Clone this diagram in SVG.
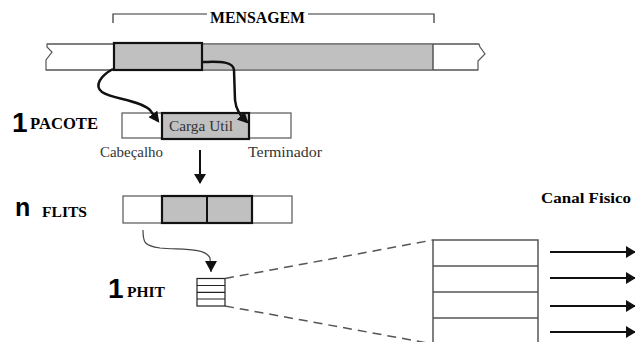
<svg xmlns="http://www.w3.org/2000/svg" width="635" height="342" viewBox="0 0 635 342">
<defs>
<style>
text.serif{font-family:"Liberation Serif","Times New Roman",serif;}
text.bold{font-weight:bold;}
text.sans{font-family:"Liberation Sans",Arial,sans-serif;font-weight:bold;}
.thin{fill:#fff;stroke:#555;stroke-width:1.2;}
.grey{fill:#c0c0c0;}
.thick{fill:#c0c0c0;stroke:#111;stroke-width:2.2;}
.curve{fill:none;stroke:#111;stroke-width:2.5;}
.dash{fill:none;stroke:#555;stroke-width:1.5;stroke-dasharray:9,6;}
</style>
<marker id="ah" viewBox="0 0 10 10" refX="8" refY="5" markerWidth="11" markerHeight="11" orient="auto" markerUnits="userSpaceOnUse">
<path d="M0,0 L10,5 L0,10 z" fill="#111"/>
</marker>
<marker id="ah2" viewBox="0 0 10 12" refX="9" refY="6" markerWidth="10" markerHeight="12" orient="auto" markerUnits="userSpaceOnUse">
<path d="M0,0 L10,6 L0,12 z" fill="#111"/>
</marker>
</defs>
<rect width="635" height="342" fill="#fff"/>

<g id="mensagem">
<path d="M113,23 V14 H207 M308,14 H434 V23" fill="none" stroke="#333" stroke-width="1.2"/>
<text class="serif bold" font-family="Liberation Serif, serif" x="210" y="23" font-size="16" textLength="95" lengthAdjust="spacingAndGlyphs">MENSAGEM</text>
<path d="M47,44 L479,44 L480,47 L485,54 L478,61 L478,70 L46,70 L46,60 L52,52 L47,47 Z" class="thin"/>
<rect x="113" y="44" width="320" height="26" class="grey"/>
<line x1="433" y1="44" x2="433" y2="70" stroke="#555" stroke-width="1.5"/>
<path d="M47,44 H479 M46,70 H478" stroke="#555" stroke-width="1.2" fill="none"/>
<rect x="114" y="43" width="88" height="27" class="thick"/>
</g>

<g id="pacote">
<text class="sans" x="12" y="132" font-size="28">1</text>
<text class="serif bold" font-family="Liberation Serif, serif" x="30" y="129" font-size="16" textLength="68" lengthAdjust="spacingAndGlyphs">PACOTE</text>
<rect x="122" y="113" width="169" height="25" class="thin"/>
<rect x="162" y="113" width="87" height="26" class="thick"/>
<text class="serif" font-family="Liberation Serif, serif" x="169" y="131" font-size="15" fill="#333" textLength="64" lengthAdjust="spacingAndGlyphs">Carga Util</text>
<text class="serif" font-family="Liberation Serif, serif" x="100" y="157" font-size="14" fill="#333" textLength="63" lengthAdjust="spacingAndGlyphs">Cabeçalho</text>
<text class="serif" font-family="Liberation Serif, serif" x="248" y="157" font-size="14" fill="#333" textLength="74" lengthAdjust="spacingAndGlyphs">Terminador</text>
</g>

<g id="flits">
<text class="sans" x="15" y="216" font-size="25">n</text>
<text class="serif bold" font-family="Liberation Serif, serif" x="42" y="217" font-size="14" textLength="45" lengthAdjust="spacingAndGlyphs">FLITS</text>
<rect x="123" y="196" width="169" height="27" class="thin"/>
<rect x="162" y="196" width="90" height="27" class="thick"/>
<line x1="207" y1="196" x2="207" y2="223" stroke="#111" stroke-width="2"/>
</g>

<g id="phit">
<text class="sans" x="108" y="298" font-size="28">1</text>
<text class="serif bold" font-family="Liberation Serif, serif" x="127" y="297" font-size="15" textLength="38" lengthAdjust="spacingAndGlyphs">PHIT</text>
<rect x="197" y="278.5" width="28" height="27.5" fill="#fff" stroke="#222" stroke-width="1.2"/>
<path d="M197,285.5 H225 M197,292.3 H225 M197,299 H225" stroke="#222" stroke-width="1.2"/>
</g>

<g id="canal">
<text class="serif bold" font-family="Liberation Serif, serif" x="541" y="203" font-size="15" textLength="90" lengthAdjust="spacingAndGlyphs">Canal Fisico</text>
<path d="M433,342 V240 H538 V342" fill="#fff" stroke="#555" stroke-width="1.5"/>
<path d="M433,266 H538 M433,292 H538 M433,318 H538" stroke="#555" stroke-width="1.5"/>
</g>

<g id="connectors">
<path class="curve" d="M113,69 C100,76 94,86 102,92 C112,99 140,100 150,110 L158,121" marker-end="url(#ah)"/>
<path class="curve" d="M202,62 C215,62 233,60 234,70 L235,100 C236,110 240,115 247,122" marker-end="url(#ah)"/>
<line x1="200" y1="150" x2="200" y2="183" stroke="#111" stroke-width="2" marker-end="url(#ah2)"/>
<path d="M143,230 C143,242 144,246 160,248 C180,250 205,247 210,258 L211,272" fill="none" stroke="#444" stroke-width="1.2"/>
<path d="M205,261 L217,261 L211,272 Z" fill="#111"/>
<path class="dash" d="M225,278.5 L433,240"/>
<path class="dash" d="M225,306 L433,344"/>
<line x1="550" y1="252" x2="635" y2="252" stroke="#111" stroke-width="2.2" marker-end="url(#ah2)"/>
<line x1="550" y1="278" x2="635" y2="278" stroke="#111" stroke-width="2.2" marker-end="url(#ah2)"/>
<line x1="550" y1="306" x2="635" y2="306" stroke="#111" stroke-width="2.2" marker-end="url(#ah2)"/>
<line x1="550" y1="332" x2="635" y2="332" stroke="#111" stroke-width="2.2" marker-end="url(#ah2)"/>
</g>
</svg>
